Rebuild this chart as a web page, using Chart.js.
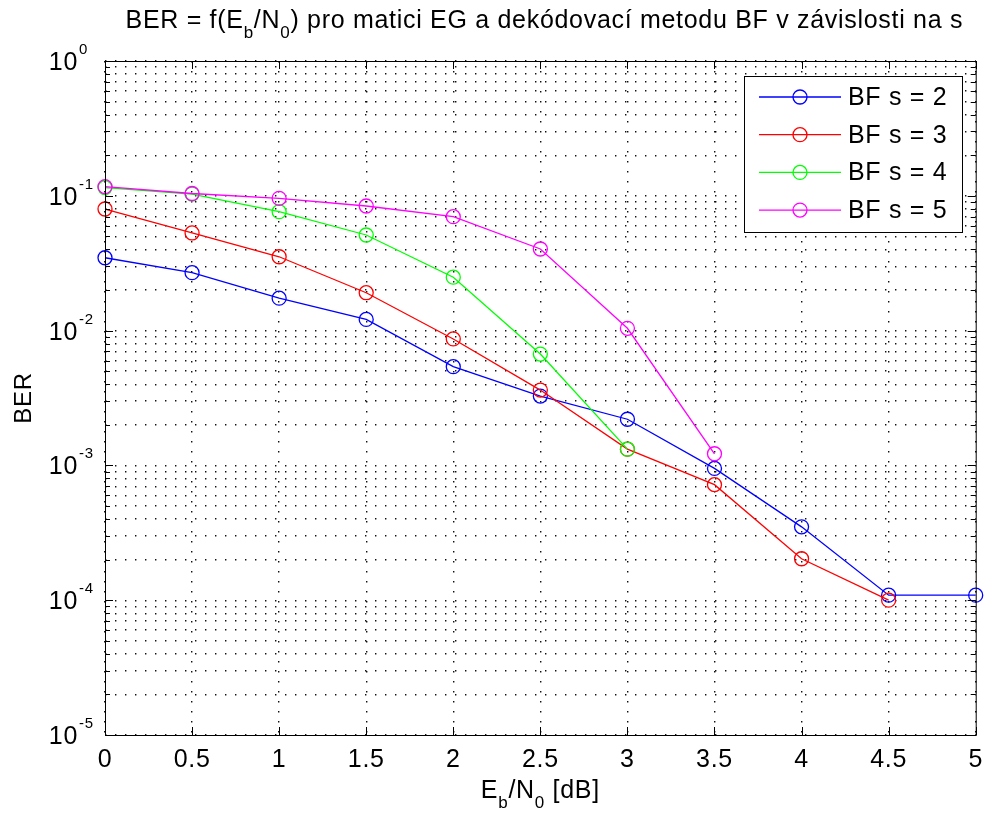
<!DOCTYPE html>
<html>
<head>
<meta charset="utf-8">
<script src="https://cdn.jsdelivr.net/npm/chart.js@4.4.1/dist/chart.umd.min.js"></script>
<style>
  html, body { margin: 0; padding: 0; background: #fff; }
  #wrap { width: 984px; height: 813px; }
</style>
</head>
<body>
<div id="wrap"><canvas id="berChart" width="984" height="813"></canvas></div>
<script>
// Osa x: Eb/N0 [dB]
var EBN0 = [0, 0.5, 1, 1.5, 2, 2.5, 3, 3.5, 4, 4.5, 5];

// BER pro matici EG, dekodovani BF, ruzne s
var BER_S2 = [0.0347, 0.0269, 0.0174, 0.0121, 0.0054, 0.00327, 0.0022, 0.00095, 0.00035, 0.000109, 0.000109];
var BER_S3 = [0.0798, 0.053, 0.0353, 0.0191, 0.00867, 0.00362, 0.00132, 0.00072, 0.000203, 0.0001];
var BER_S4 = [0.115, 0.103, 0.0762, 0.0512, 0.0249, 0.0067, 0.00132];
var BER_S5 = [0.117, 0.104, 0.0958, 0.084, 0.070, 0.0403, 0.0104, 0.00122];

var SERIES_LABELS = ['BF s = 2', 'BF s = 3', 'BF s = 4', 'BF s = 5'];
var SERIES_COLORS = ['#0000ff', '#ff0000', '#00ff00', '#ff00ff'];

// popisky os
var X_TICKS = [0, 0.5, 1, 1.5, 2, 2.5, 3, 3.5, 4, 4.5, 5];
var Y_DECADES = [0, -1, -2, -3, -4, -5];

var FONT = '"Liberation Sans", Arial, sans-serif';
var SPACING = '0.7px';
var GRID_DASH = [1.4, 8.6];

// vsechny tiky logaritmicke osy (1..9 x 10^k)
function logTicks() {
    var out = [];
    for (var k = Y_DECADES.length - 1; k > 0; k--) {
        var e = Y_DECADES[k];
        for (var m = 1; m <= 9; m++) out.push(m * Math.pow(10, e));
    }
    out.push(Math.pow(10, Y_DECADES[0]));
    return out;
}

function isDecade(v) {
    var l = Math.log10(v);
    return Math.abs(l - Math.round(l)) < 1e-9;
}

function toPoints(vals) {
    return vals.map(function (v, i) { return { x: EBN0[i], y: v }; });
}

// text s dolnimi indexy, parts = [[text, jeSub], ...]
function drawRich(ctx, parts, cx, baseline, size, subSize, subDrop) {
    var total = 0;
    parts.forEach(function (p) {
        ctx.font = (p[1] ? subSize : size) + 'px ' + FONT;
        total += ctx.measureText(p[0]).width;
    });
    var x = cx - total / 2;
    ctx.textAlign = 'left';
    ctx.textBaseline = 'alphabetic';
    parts.forEach(function (p) {
        ctx.font = (p[1] ? subSize : size) + 'px ' + FONT;
        ctx.fillText(p[0], x, p[1] ? baseline + subDrop : baseline);
        x += ctx.measureText(p[0]).width;
    });
}

var matlabAxes = {
    id: 'matlabAxes',
    afterDraw: function (chart) {
        var ctx = chart.ctx, a = chart.chartArea;
        var xs = chart.scales.x, ys = chart.scales.y;
        var cx = (a.left + a.right) / 2;
        ctx.save();
        ctx.strokeStyle = '#000';
        ctx.fillStyle = '#000';
        ctx.lineWidth = 1;
        ctx.letterSpacing = SPACING;

        // ramecek grafu
        ctx.strokeRect(a.left + 0.5, a.top + 0.5, a.right - a.left, a.bottom - a.top);

        // tiky dovnitr
        ctx.beginPath();
        X_TICKS.forEach(function (v) {
            var px = Math.round(xs.getPixelForValue(v)) + 0.5;
            ctx.moveTo(px, a.bottom); ctx.lineTo(px, a.bottom - 8);
            ctx.moveTo(px, a.top); ctx.lineTo(px, a.top + 8);
        });
        ys.ticks.forEach(function (t) {
            var py = Math.round(ys.getPixelForValue(t.value)) + 0.5;
            var len = isDecade(t.value) ? 8 : 5;
            ctx.moveTo(a.left, py); ctx.lineTo(a.left + len, py);
            ctx.moveTo(a.right, py); ctx.lineTo(a.right - len, py);
        });
        ctx.stroke();

        // popisky osy x
        ctx.font = '25px ' + FONT;
        ctx.textAlign = 'center';
        ctx.textBaseline = 'alphabetic';
        X_TICKS.forEach(function (v) {
            ctx.fillText(String(v), xs.getPixelForValue(v), a.bottom + 32);
        });

        // popisky osy y ve tvaru 10^k
        Y_DECADES.forEach(function (k) {
            var py = ys.getPixelForValue(Math.pow(10, k));
            ctx.font = '25px ' + FONT;
            ctx.textAlign = 'right';
            ctx.fillText('10', 78, py + 9);
            ctx.font = '15px ' + FONT;
            ctx.textAlign = 'left';
            ctx.fillText(String(k), 79, py - 7);
        });

        // nadpis
        drawRich(ctx, [
            ['BER = f(E', false], ['b', true], ['/N', false], ['0', true],
            [') pro matici EG a dekódovací metodu BF v závislosti na s', false]
        ], cx + 4, 28, 25, 17, 10);

        // popis osy x
        drawRich(ctx, [
            ['E', false], ['b', true], ['/N', false], ['0', true], [' [dB]', false]
        ], cx, 798, 25, 17, 10);

        // popis osy y
        ctx.save();
        ctx.translate(24, (a.top + a.bottom) / 2);
        ctx.rotate(-Math.PI / 2);
        ctx.font = '24px ' + FONT;
        ctx.textAlign = 'center';
        ctx.textBaseline = 'middle';
        ctx.fillText('BER', 0, 0);
        ctx.restore();

        // legenda
        var lx = 744, ly = 76, lw = 218, lh = 156;
        ctx.fillStyle = '#fff';
        ctx.fillRect(lx, ly, lw, lh);
        ctx.strokeStyle = '#000';
        ctx.strokeRect(lx + 0.5, ly + 0.5, lw, lh);
        SERIES_LABELS.forEach(function (label, i) {
            var y = ly + 21 + i * 37.7;
            ctx.strokeStyle = SERIES_COLORS[i];
            ctx.lineWidth = 1.3;
            ctx.beginPath();
            ctx.moveTo(lx + 15, y); ctx.lineTo(lx + 97, y);
            ctx.stroke();
            ctx.beginPath();
            ctx.arc(lx + 56, y, 7, 0, Math.PI * 2);
            ctx.stroke();
            ctx.fillStyle = '#000';
            ctx.font = '25px ' + FONT;
            ctx.textAlign = 'left';
            ctx.textBaseline = 'middle';
            ctx.fillText(label, lx + 104, y + 1);
        });
        ctx.restore();
    }
};

var datasets = [BER_S2, BER_S3, BER_S4, BER_S5].map(function (vals, i) {
    return {
        label: SERIES_LABELS[i],
        data: toPoints(vals),
        borderColor: SERIES_COLORS[i],
        backgroundColor: 'transparent',
        borderWidth: 1.3,
        pointStyle: 'circle',
        pointRadius: 7,
        pointBorderWidth: 1.3,
        pointBorderColor: SERIES_COLORS[i],
        pointBackgroundColor: 'transparent',
        tension: 0,
        clip: false,
        order: 4 - i // posledni rada nahore
    };
});

var ctx = document.getElementById('berChart').getContext('2d');
var berChart = new Chart(ctx, {
    type: 'line',
    data: { datasets: datasets },
    options: {
        responsive: false,
        animation: false,
        devicePixelRatio: 1,
        layout: { padding: { left: 105, right: 8, top: 61, bottom: 78 } },
        plugins: {
            legend: { display: false },
            title: { display: false },
            tooltip: { enabled: false }
        },
        scales: {
            x: {
                type: 'linear',
                min: 0,
                max: 5,
                afterBuildTicks: function (s) { s.ticks = X_TICKS.map(function (v) { return { value: v }; }); },
                afterFit: function (s) { s.height = 0; },
                ticks: { display: false },
                grid: { color: '#111', lineWidth: 1.4, drawTicks: false },
                border: { display: false, dash: GRID_DASH }
            },
            y: {
                type: 'logarithmic',
                min: 1e-5,
                max: 1,
                afterBuildTicks: function (s) { s.ticks = logTicks().map(function (v) { return { value: v }; }); },
                afterFit: function (s) { s.width = 0; },
                ticks: { display: false, autoSkip: false },
                grid: { color: '#111', lineWidth: 1.4, drawTicks: false },
                border: { display: false, dash: GRID_DASH }
            }
        }
    },
    plugins: [matlabAxes]
});
</script>
</body>
</html>
